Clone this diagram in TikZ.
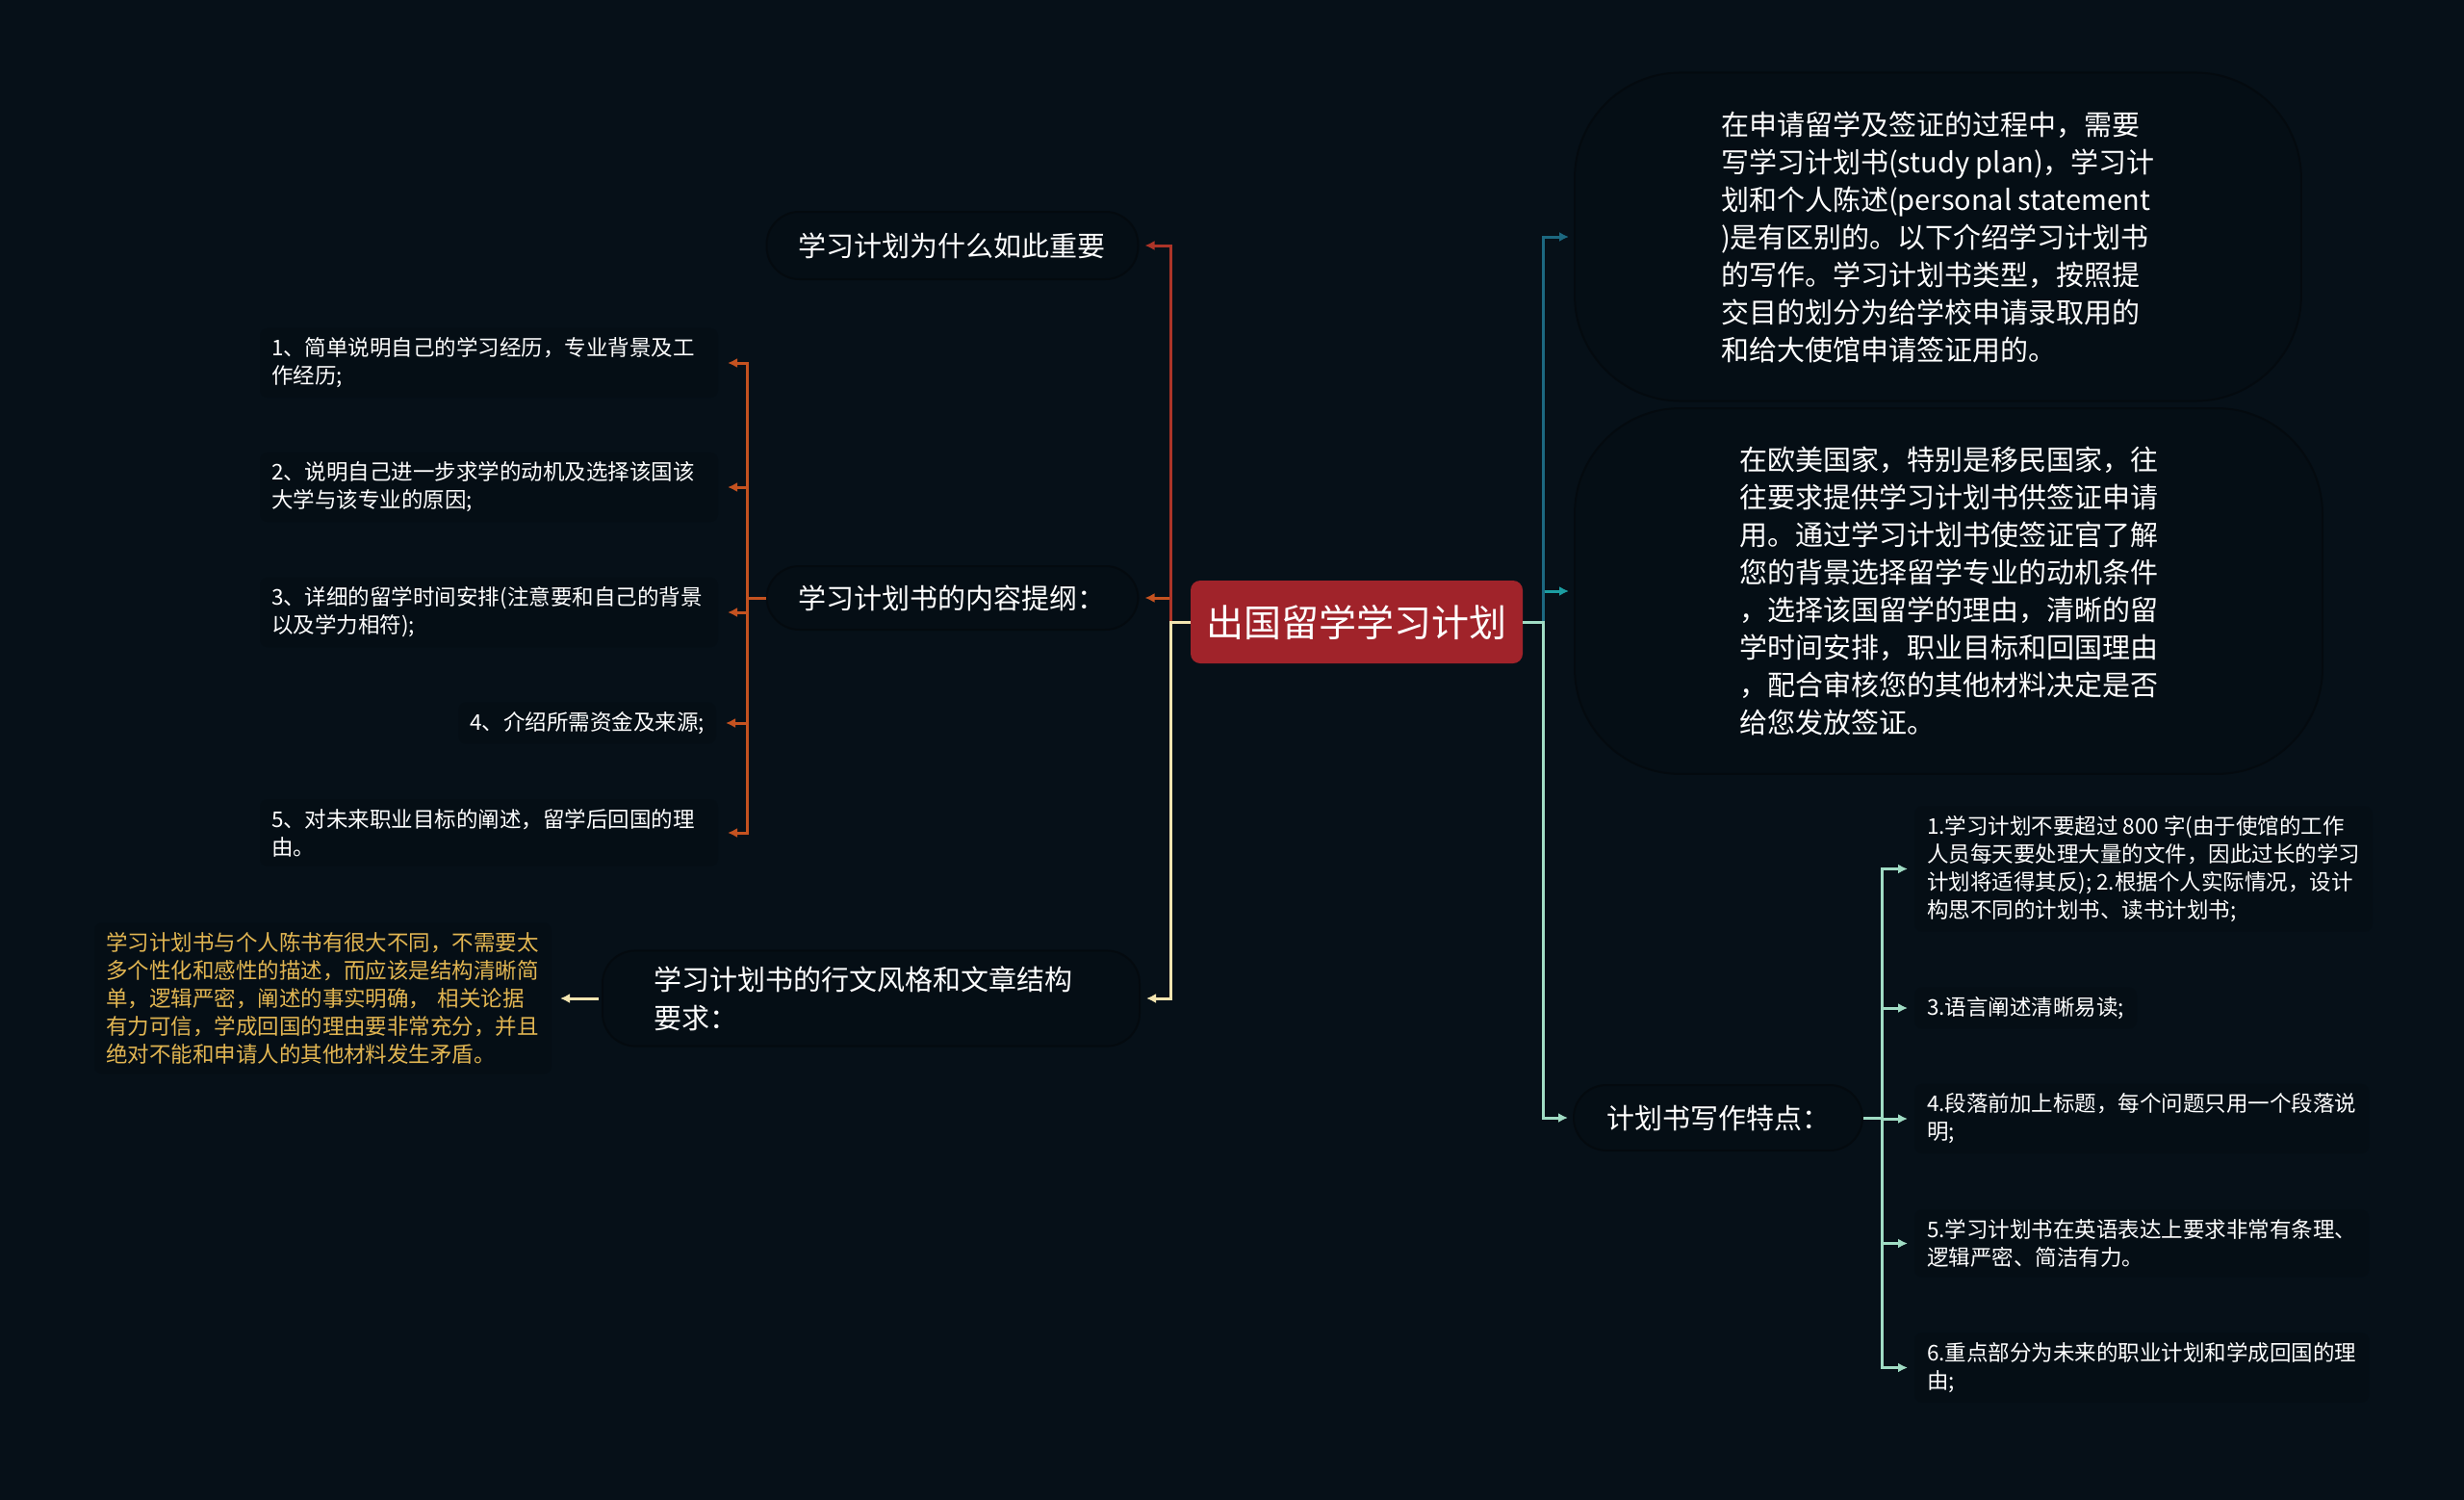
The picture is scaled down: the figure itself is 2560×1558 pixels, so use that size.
\documentclass[tikz,border=0pt]{standalone}
\usepackage{fontspec}
\setmainfont{Noto Sans CJK SC}
\usetikzlibrary{arrows.meta, positioning}

\definecolor{bgnavy}{RGB}{6,16,24}
\definecolor{bubblefill}{RGB}{5,14,21}
\definecolor{bubbleedge}{RGB}{4,10,15}
\definecolor{rootred}{RGB}{160,35,42}
\definecolor{redline}{RGB}{172,52,40}
\definecolor{orangeline}{RGB}{196,82,32}
\definecolor{creamline}{RGB}{242,228,176}
\definecolor{goldtext}{RGB}{226,182,82}
\definecolor{blueline}{RGB}{28,104,128}
\definecolor{tealline}{RGB}{28,158,162}
\definecolor{mintline}{RGB}{160,220,196}

\begin{document}
\begin{tikzpicture}[x=1pt, y=-1pt,
  link/.style={line width=3pt, -{Latex[length=10pt,width=10pt]}},
  rootbox/.style={fill=rootred, rounded corners=10pt, minimum width=345pt, minimum height=86pt,
    inner sep=0pt, text=white, font=\fontsize{39}{39}\selectfont},
  bubble/.style={fill=bubblefill, draw=bubbleedge, line width=2pt},
  topic/.style={bubble, rounded corners=34pt, text=white, align=left, inner xsep=33pt,
    font=\fontsize{29}{40}\selectfont},
  bigtopic/.style={bubble, rounded corners=110pt, text=white, align=left, inner ysep=40pt,
    font=\fontsize{29}{39}\selectfont},
  leaf/.style={bubble, draw=none, rounded corners=8pt, align=left, inner xsep=12pt, inner ysep=10pt,
    text=white, font=\fontsize{22.5}{29}\selectfont}]

\fill [bgnavy] (0,0) rectangle (2560,1558);
\useasboundingbox (0,0) rectangle (2560,1558);

% centre
\node (root) [rootbox] at (1409.5,646) {出国留学学习计划};

% left side
\node (why) [topic, text width=320pt, minimum height=70pt] at (989.5,255) {学习计划为什么如此重要};
\node (outline) [topic, text width=320pt, minimum height=66pt] at (989.5,621) {学习计划书的内容提纲：};
\node (style) [topic, anchor=west, inner xsep=53pt, inner ysep=16pt, text width=452pt] at (625,1037)
  {学习计划书的行文风格和文章结构\\要求：};

\node (o1) [leaf, anchor=west, text width=452pt] at (269,377) {1、简单说明自己的学习经历，专业背景及工\\作经历;};
\node (o2) [leaf, anchor=west, text width=452pt] at (269,506) {2、说明自己进一步求学的动机及选择该国该\\大学与该专业的原因;};
\node (o3) [leaf, anchor=west, text width=452pt] at (269,636) {3、详细的留学时间安排(注意要和自己的背景\\以及学力相符);};
\node (o4) [leaf, anchor=east] at (745,751) {4、介绍所需资金及来源;};
\node (o5) [leaf, anchor=west, text width=452pt] at (269,865) {5、对未来职业目标的阐述，留学后回国的理\\由。};

\node (gold) [leaf, text=goldtext, anchor=west, text width=451pt] at (97,1037)
  {学习计划书与个人陈书有很大不同，不需要太\\多个性化和感性的描述，而应该是结构清晰简\\单，逻辑严密，阐述的事实明确， 相关论据\\有力可信，学成回国的理由要非常充分，并且\\绝对不能和申请人的其他材料发生矛盾。};

% right side
\node (plan) [bigtopic, anchor=west, inner xsep=152pt] at (1635,246)
  {在申请留学及签证的过程中，需要\\写学习计划书(study plan)，学习计\\划和个人陈述(personal statement\\)是有区别的。以下介绍学习计划书\\的写作。学习计划书类型，按照提\\交目的划分为给学校申请录取用的\\和给大使馆申请签证用的。};
\node (euro) [bigtopic, anchor=west, inner xsep=171pt] at (1635,614)
  {在欧美国家，特别是移民国家，往\\往要求提供学习计划书供签证申请\\用。通过学习计划书使签证官了解\\您的背景选择留学专业的动机条件\\，选择该国留学的理由，清晰的留\\学时间安排，职业目标和回国理由\\，配合审核您的其他材料决定是否\\给您发放签证。};
\node (feat) [topic, inner xsep=0pt, minimum width=300pt, minimum height=68pt,
  align=center] at (1785,1161) {计划书写作特点：};

\node (m1) [leaf, anchor=west, inner xsep=13pt] at (1988,902.5)
  {1.学习计划不要超过 800 字(由于使馆的工作\\人员每天要处理大量的文件，因此过长的学习\\计划将适得其反); 2.根据个人实际情况，设计\\构思不同的计划书、读书计划书;};
\node (m2) [leaf, anchor=west, inner xsep=13pt] at (1988,1047) {3.语言阐述清晰易读;};
\node (m3) [leaf, anchor=west, inner xsep=13pt] at (1988,1162) {4.段落前加上标题，每个问题只用一个段落说\\明;};
\node (m4) [leaf, anchor=west, inner xsep=13pt] at (1988,1291.5) {5.学习计划书在英语表达上要求非常有条理、\\逻辑严密、简洁有力。};
\node (m5) [leaf, anchor=west, inner xsep=13pt] at (1988,1420.5) {6.重点部分为未来的职业计划和学成回国的理\\由;};

% branch points
\coordinate (lsplit) at (1216,646);
\coordinate (rsplit) at (1603,646);
\coordinate (osplit) at (776,621);
\coordinate (msplit) at (1955,1161);

% connectors
\draw [link, orangeline, shorten >=6pt] (root.west) -- (lsplit) |- (outline.east);
\draw [link, redline, shorten >=6pt] (root.west) -- (lsplit) |- (why.east);
\draw [link, creamline, shorten >=6pt] (root.west) -- (lsplit) |- (style.east);

\foreach \leafname in {o1,o2,o3,o4,o5}
  \draw [link, orangeline, shorten >=9pt] (outline.west) -- (osplit) |- (\leafname.east);
\draw [link, creamline, shorten <=3pt, shorten >=8pt] (style.west) -- (gold.east);

\draw [link, tealline, shorten >=5pt] (root.east) -- (rsplit) |- (euro.west);
\draw [link, blueline, shorten >=5pt] (root.east) -- (rsplit) |- (plan.west);
\draw [link, mintline, shorten >=5pt] (root.east) -- (rsplit) |- (feat.west);

\foreach \leafname in {m1,m2,m3,m4,m5}
  \draw [link, mintline, shorten >=6pt] (feat.east) -- (msplit) |- (\leafname.west);
\end{tikzpicture}
\end{document}
